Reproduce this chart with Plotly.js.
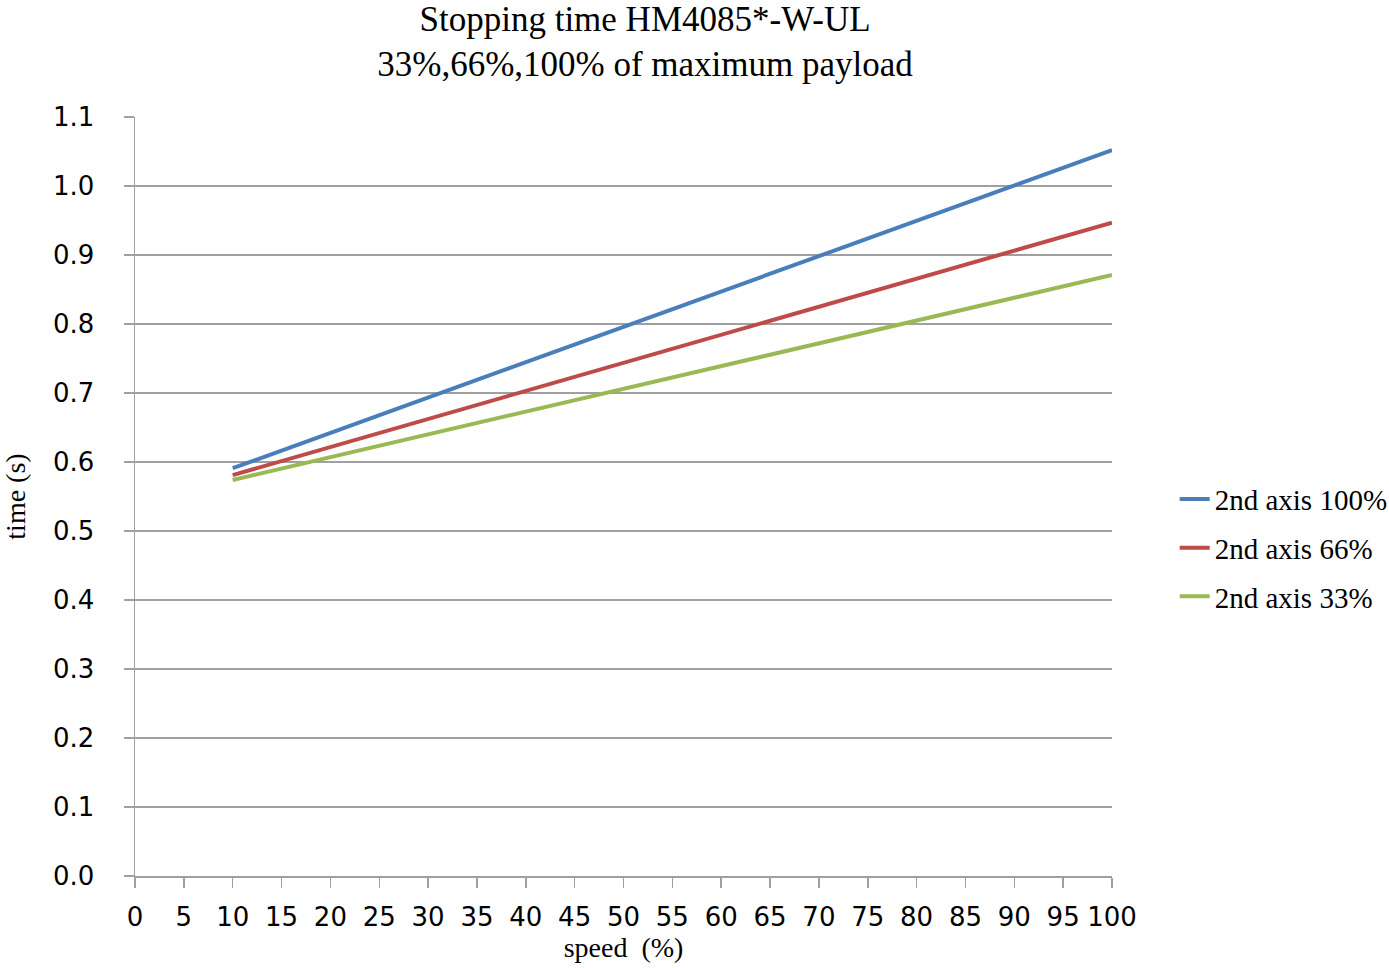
<!DOCTYPE html>
<html>
<head>
<meta charset="utf-8">
<script src="https://cdn.plot.ly/plotly-3.0.1.min.js"></script>
<style>html,body{margin:0;padding:0;background:#fff;}#chart{width:1389px;height:968px;}</style>
</head>
<body>
<div id="chart"></div>
<script>
const speed = [10, 100];
const axis100 = [0.591, 1.052];
const axis66 = [0.581, 0.947];
const axis33 = [0.574, 0.871];
const seriesNames = ["2nd axis 100%", "2nd axis 66%", "2nd axis 33%"];
const colors = ["#4a7ebb", "#be4b48", "#98b954"];
const xTicks = [0,5,10,15,20,25,30,35,40,45,50,55,60,65,70,75,80,85,90,95,100];
const yTicks = [0,0.1,0.2,0.3,0.4,0.5,0.6,0.7,0.8,0.9,1.0,1.1];

const serif = "Liberation Serif, Times New Roman, serif";
const sans = "DejaVu Sans, Verdana, sans-serif";
const data = [axis100, axis66, axis33].map((ys, i) => ({
  x: speed, y: ys, type: "scatter", mode: "lines", name: seriesNames[i],
  legendgroup: "g" + i,
  line: {color: colors[i], width: 4}
}));

const grid = "#a0a0a0";
const layout = {
  width: 1389, height: 968,
  paper_bgcolor: "#fff", plot_bgcolor: "#fff",
  margin: {l: 135, r: 277, t: 117, b: 92},
  title: {
    text: "Stopping time HM4085*-W-UL<br>33%,66%,100% of maximum payload",
    font: {family: serif, size: 35, color: "#000"},
    xref: "container", yref: "container",
    x: 0.4644, xanchor: "center", y: 0.968, yanchor: "middle"
  },
  xaxis: {
    range: [0, 100], tickvals: xTicks, ticktext: xTicks.map(String),
    showgrid: false, zeroline: false,
    showline: true, linecolor: grid, linewidth: 1.5,
    ticks: "outside", ticklen: 10, tickcolor: grid, tickwidth: 1.5,
    ticklabelstandoff: 7,
    tickfont: {family: sans, size: 26, color: "#000"},
    title: {text: "speed  (%)", font: {family: serif, size: 28, color: "#000"}, standoff: 6}
  },
  yaxis: {
    range: [0, 1.1], tickvals: yTicks, ticktext: yTicks.map(v => v.toFixed(1)),
    showgrid: true, gridcolor: grid, gridwidth: 1.5, zeroline: false,
    showline: true, linecolor: grid, linewidth: 1.5,
    ticks: "outside", ticklen: 10, tickcolor: grid, tickwidth: 1.5,
    ticklabelstandoff: 24,
    tickfont: {family: sans, size: 26, color: "#000"},
    title: {text: "time (s)", font: {family: serif, size: 28, color: "#000"}, standoff: 22}
  },
  legend: {
    xref: "container", yref: "paper",
    x: 0.8457, xanchor: "left", y: 0.432, yanchor: "middle",
    font: {family: serif, size: 29, color: "#000"},
    traceorder: "grouped", tracegroupgap: 8,
    bgcolor: "rgba(0,0,0,0)", borderwidth: 0
  },
  showlegend: true
};
Plotly.newPlot("chart", data, layout, {displayModeBar: false, staticPlot: true});
</script>
</body>
</html>
